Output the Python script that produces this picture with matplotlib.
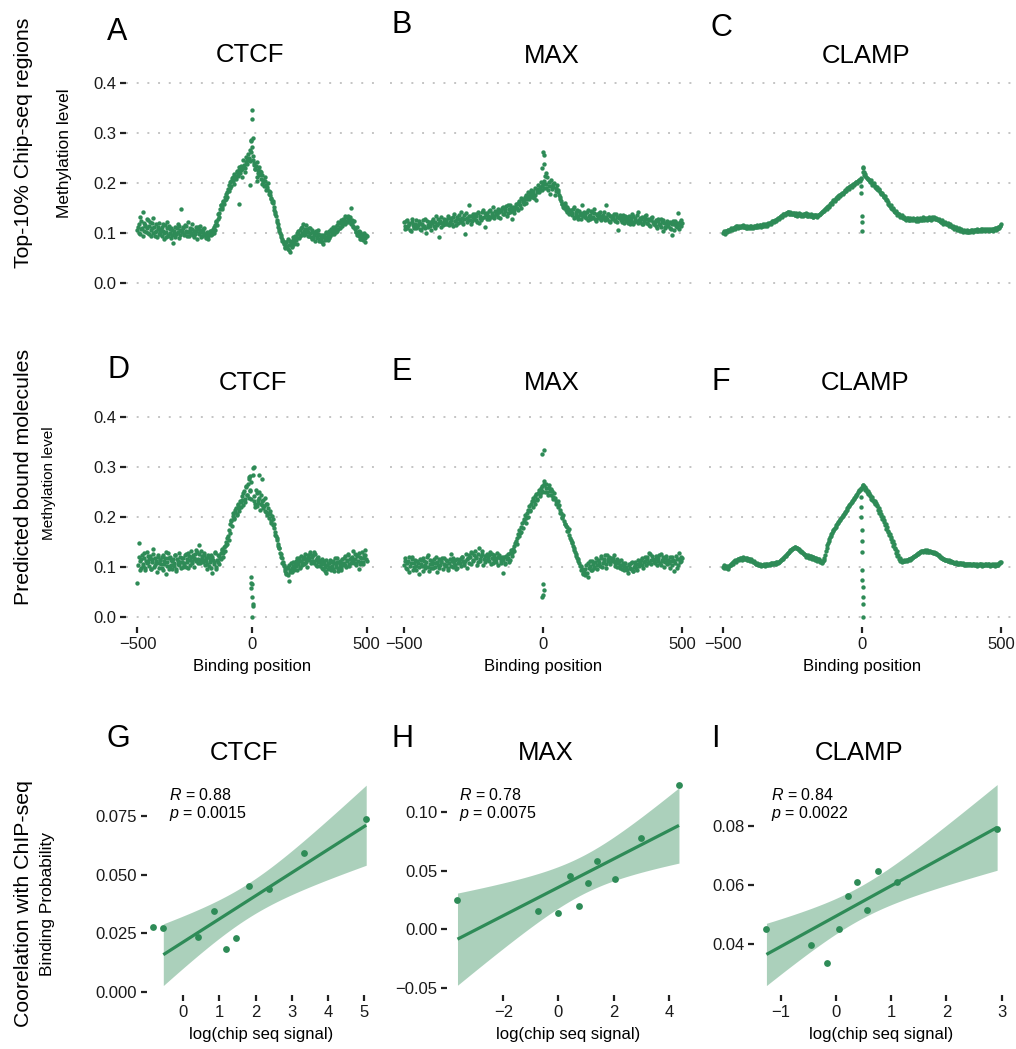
import matplotlib
matplotlib.use("Agg")
import matplotlib.pyplot as plt
import numpy as np

plt.rcParams['font.family'] = ['Liberation Sans', 'DejaVu Sans']
plt.rcParams['mathtext.fontset'] = 'custom'
plt.rcParams['mathtext.rm'] = 'Liberation Sans'
plt.rcParams['mathtext.it'] = 'Liberation Sans:italic'

GREEN = '#2E8B57'
W, H = 1016, 1049

# binding positions: every 5 bp, plus the in-between half steps
positions = np.arange(-500, 501, 5)
positions_b = positions[:-1] + 2.5

# methylation level, top-10% ChIP-seq regions (row 1)
ctcf_top = [
    0.105, 0.118, 0.097, 0.124, 0.110, 0.142, 0.103, 0.116, 0.128, 0.099,
    0.113, 0.121, 0.094, 0.109, 0.130, 0.102, 0.117, 0.091, 0.108, 0.119,
    0.097, 0.112, 0.104, 0.088, 0.115, 0.101, 0.122, 0.093, 0.107, 0.110,
    0.095, 0.079, 0.104, 0.112, 0.098, 0.118, 0.090, 0.106, 0.148, 0.101,
    0.109, 0.096, 0.113, 0.102, 0.122, 0.094, 0.105, 0.099, 0.117, 0.091,
    0.103, 0.111, 0.088, 0.107, 0.098, 0.114, 0.094, 0.102, 0.109, 0.096,
    0.092, 0.101, 0.088, 0.098, 0.104, 0.097, 0.108, 0.112, 0.105, 0.121,
    0.128, 0.139, 0.147, 0.156, 0.151, 0.163, 0.172, 0.168, 0.181, 0.188,
    0.195, 0.189, 0.203, 0.211, 0.198, 0.214, 0.208, 0.221, 0.216, 0.226,
    0.225, 0.212, 0.231, 0.236, 0.222, 0.241, 0.237, 0.250, 0.243, 0.262,
    0.271, 0.245, 0.236, 0.228, 0.241, 0.219, 0.232, 0.224, 0.208, 0.215,
    0.202, 0.211, 0.195, 0.188, 0.199, 0.183, 0.176, 0.168, 0.159, 0.152,
    0.141, 0.133, 0.122, 0.112, 0.104, 0.096, 0.088, 0.084, 0.079, 0.072,
    0.081, 0.068, 0.075, 0.062, 0.079, 0.073, 0.086, 0.082, 0.091, 0.078,
    0.098, 0.089, 0.106, 0.095, 0.112, 0.103, 0.097, 0.115, 0.108, 0.101,
    0.094, 0.109, 0.087, 0.102, 0.096, 0.084, 0.099, 0.091, 0.105, 0.088,
    0.083, 0.096, 0.078, 0.092, 0.087, 0.099, 0.085, 0.103, 0.094, 0.108,
    0.098, 0.112, 0.104, 0.101, 0.116, 0.107, 0.119, 0.110, 0.122, 0.114,
    0.126, 0.118, 0.131, 0.121, 0.134, 0.127, 0.150, 0.119, 0.112, 0.124,
    0.108, 0.101, 0.095, 0.104, 0.088, 0.097, 0.092, 0.085, 0.099, 0.090,
    0.094,
]
ctcf_top_b = [
    0.112, 0.099, 0.131, 0.107, 0.094, 0.120, 0.113, 0.101, 0.109, 0.125,
    0.098, 0.106, 0.119, 0.100, 0.111, 0.093, 0.104, 0.112, 0.097, 0.101,
    0.108, 0.094, 0.117, 0.099, 0.092, 0.109, 0.096, 0.113, 0.100, 0.089,
    0.106, 0.099, 0.091, 0.097, 0.109, 0.102, 0.113, 0.096, 0.104, 0.111,
    0.098, 0.115, 0.104, 0.093, 0.101, 0.110, 0.097, 0.108, 0.095, 0.103,
    0.097, 0.104, 0.111, 0.099, 0.106, 0.092, 0.101, 0.108, 0.098, 0.089,
    0.099, 0.093, 0.097, 0.104, 0.095, 0.103, 0.099, 0.116, 0.124, 0.115,
    0.137, 0.132, 0.155, 0.148, 0.162, 0.158, 0.166, 0.177, 0.171, 0.184,
    0.201, 0.194, 0.209, 0.203, 0.217, 0.209, 0.224, 0.213, 0.231, 0.219,
    0.234, 0.227, 0.245, 0.229, 0.252, 0.246, 0.258, 0.248, 0.266, 0.283,
    0.254, 0.239, 0.227, 0.234, 0.212, 0.226, 0.215, 0.221, 0.198, 0.206,
    0.193, 0.204, 0.186, 0.192, 0.178, 0.181, 0.170, 0.161, 0.164, 0.146,
    0.137, 0.126, 0.117, 0.108, 0.099, 0.091, 0.083, 0.077, 0.070, 0.081,
    0.074, 0.088, 0.066, 0.083, 0.071, 0.092, 0.077, 0.094, 0.085, 0.099,
    0.104, 0.093, 0.110, 0.100, 0.117, 0.096, 0.108, 0.102, 0.094, 0.109,
    0.099, 0.092, 0.106, 0.089, 0.097, 0.103, 0.090, 0.098, 0.084, 0.095,
    0.090, 0.081, 0.095, 0.086, 0.101, 0.092, 0.098, 0.089, 0.104, 0.099,
    0.105, 0.097, 0.111, 0.108, 0.103, 0.121, 0.112, 0.125, 0.117, 0.128,
    0.121, 0.134, 0.124, 0.129, 0.122, 0.131, 0.118, 0.126, 0.113, 0.109,
    0.102, 0.111, 0.099, 0.093, 0.101, 0.087, 0.095, 0.091, 0.082, 0.096,
]
max_top = [
    0.121, 0.108, 0.126, 0.114, 0.119, 0.103, 0.128, 0.112, 0.117, 0.109,
    0.115, 0.124, 0.106, 0.118, 0.111, 0.127, 0.099, 0.116, 0.121, 0.113,
    0.119, 0.128, 0.110, 0.134, 0.117, 0.092, 0.124, 0.131, 0.115, 0.122,
    0.126, 0.118, 0.133, 0.121, 0.129, 0.113, 0.137, 0.124, 0.131, 0.119,
    0.128, 0.141, 0.122, 0.135, 0.098, 0.130, 0.126, 0.155, 0.133, 0.124,
    0.131, 0.138, 0.125, 0.142, 0.120, 0.134, 0.129, 0.145, 0.111, 0.136,
    0.139, 0.128, 0.146, 0.135, 0.151, 0.133, 0.142, 0.137, 0.148, 0.130,
    0.143, 0.152, 0.138, 0.147, 0.133, 0.155, 0.141, 0.149, 0.127, 0.146,
    0.152, 0.158, 0.145, 0.163, 0.150, 0.167, 0.157, 0.171, 0.160, 0.174,
    0.168, 0.179, 0.172, 0.184, 0.176, 0.165, 0.188, 0.181, 0.192, 0.185,
    0.198, 0.203, 0.189, 0.211, 0.194, 0.178, 0.206, 0.191, 0.199, 0.184,
    0.195, 0.181, 0.172, 0.163, 0.158, 0.149, 0.155, 0.142, 0.147, 0.139,
    0.146, 0.135, 0.151, 0.132, 0.141, 0.128, 0.144, 0.136, 0.155, 0.133,
    0.138, 0.129, 0.145, 0.134, 0.127, 0.142, 0.131, 0.148, 0.124, 0.137,
    0.133, 0.141, 0.126, 0.136, 0.130, 0.156, 0.128, 0.138, 0.121, 0.134,
    0.129, 0.137, 0.124, 0.132, 0.105, 0.135, 0.126, 0.131, 0.119, 0.133,
    0.127, 0.120, 0.134, 0.124, 0.138, 0.118, 0.129, 0.123, 0.141, 0.126,
    0.122, 0.131, 0.117, 0.128, 0.135, 0.119, 0.126, 0.113, 0.129, 0.121,
    0.118, 0.126, 0.109, 0.123, 0.115, 0.127, 0.103, 0.119, 0.112, 0.124,
    0.114, 0.121, 0.108, 0.095, 0.117, 0.124, 0.111, 0.139, 0.115, 0.126,
    0.119,
]
max_top_b = [
    0.113, 0.124, 0.109, 0.118, 0.105, 0.122, 0.116, 0.110, 0.125, 0.112,
    0.120, 0.108, 0.117, 0.126, 0.114, 0.109, 0.123, 0.111, 0.118, 0.106,
    0.124, 0.113, 0.121, 0.116, 0.127, 0.119, 0.112, 0.120, 0.128, 0.117,
    0.121, 0.129, 0.115, 0.126, 0.118, 0.132, 0.123, 0.116, 0.127, 0.135,
    0.122, 0.130, 0.118, 0.127, 0.139, 0.121, 0.134, 0.125, 0.117, 0.138,
    0.127, 0.133, 0.121, 0.139, 0.130, 0.126, 0.141, 0.132, 0.140, 0.128,
    0.134, 0.143, 0.131, 0.140, 0.129, 0.144, 0.138, 0.132, 0.141, 0.145,
    0.149, 0.137, 0.144, 0.153, 0.140, 0.148, 0.156, 0.143, 0.151, 0.139,
    0.157, 0.149, 0.161, 0.155, 0.170, 0.162, 0.166, 0.176, 0.168, 0.181,
    0.173, 0.185, 0.178, 0.170, 0.189, 0.182, 0.196, 0.186, 0.201, 0.193,
    0.190, 0.214, 0.197, 0.186, 0.201, 0.193, 0.188, 0.197, 0.176, 0.190,
    0.186, 0.176, 0.167, 0.158, 0.151, 0.160, 0.146, 0.151, 0.138, 0.143,
    0.139, 0.147, 0.129, 0.137, 0.145, 0.133, 0.140, 0.128, 0.139, 0.142,
    0.132, 0.141, 0.126, 0.136, 0.143, 0.130, 0.139, 0.127, 0.135, 0.129,
    0.139, 0.127, 0.134, 0.142, 0.125, 0.131, 0.137, 0.124, 0.133, 0.128,
    0.134, 0.126, 0.138, 0.121, 0.129, 0.133, 0.122, 0.136, 0.127, 0.124,
    0.131, 0.125, 0.118, 0.129, 0.133, 0.121, 0.126, 0.136, 0.119, 0.130,
    0.127, 0.118, 0.124, 0.133, 0.120, 0.128, 0.116, 0.125, 0.131, 0.117,
    0.122, 0.114, 0.128, 0.117, 0.111, 0.121, 0.125, 0.110, 0.119, 0.116,
    0.120, 0.110, 0.117, 0.124, 0.106, 0.113, 0.119, 0.108, 0.122, 0.114,
]
clamp_top = [
    0.099, 0.101, 0.103, 0.102, 0.105, 0.106, 0.108, 0.107, 0.110, 0.111,
    0.113, 0.111, 0.112, 0.114, 0.112, 0.111, 0.113, 0.110, 0.112, 0.111,
    0.110, 0.112, 0.111, 0.113, 0.112, 0.114, 0.113, 0.115, 0.114, 0.113,
    0.114, 0.116, 0.118, 0.117, 0.120, 0.122, 0.124, 0.123, 0.126, 0.128,
    0.130, 0.132, 0.134, 0.136, 0.138, 0.140, 0.139, 0.141, 0.138, 0.140,
    0.137, 0.139, 0.136, 0.138, 0.135, 0.137, 0.134, 0.136, 0.138, 0.135,
    0.137, 0.134, 0.136, 0.133, 0.135, 0.132, 0.134, 0.136, 0.133, 0.135,
    0.138, 0.141, 0.144, 0.146, 0.149, 0.151, 0.154, 0.157, 0.160, 0.163,
    0.166, 0.168, 0.171, 0.173, 0.176, 0.178, 0.180, 0.182, 0.185, 0.187,
    0.189, 0.191, 0.193, 0.196, 0.198, 0.200, 0.202, 0.204, 0.205, 0.207,
    0.122, 0.229, 0.218, 0.212, 0.208, 0.205, 0.203, 0.199, 0.197, 0.194,
    0.190, 0.187, 0.185, 0.181, 0.178, 0.175, 0.171, 0.168, 0.165, 0.158,
    0.153, 0.150, 0.147, 0.144, 0.141, 0.139, 0.137, 0.134, 0.133, 0.131,
    0.130, 0.128, 0.127, 0.129, 0.126, 0.128, 0.127, 0.125, 0.127, 0.126,
    0.127, 0.125, 0.128, 0.126, 0.129, 0.127, 0.128, 0.130, 0.128, 0.129,
    0.131, 0.129, 0.130, 0.127, 0.128, 0.126, 0.124, 0.122, 0.121, 0.119,
    0.120, 0.118, 0.117, 0.115, 0.114, 0.112, 0.111, 0.109, 0.108, 0.107,
    0.106, 0.105, 0.104, 0.103, 0.104, 0.103, 0.102, 0.104, 0.103, 0.105,
    0.104, 0.106, 0.105, 0.104, 0.106, 0.105, 0.107, 0.105, 0.106, 0.107,
    0.106, 0.105, 0.107, 0.106, 0.108, 0.107, 0.109, 0.108, 0.111, 0.114,
    0.117,
]
clamp_top_b = [
    0.103, 0.098, 0.104, 0.106, 0.103, 0.109, 0.106, 0.110, 0.108, 0.113,
    0.110, 0.114, 0.111, 0.113, 0.115, 0.112, 0.110, 0.114, 0.110, 0.113,
    0.113, 0.110, 0.114, 0.111, 0.115, 0.112, 0.116, 0.112, 0.117, 0.115,
    0.117, 0.114, 0.120, 0.119, 0.118, 0.124, 0.121, 0.126, 0.124, 0.130,
    0.128, 0.134, 0.132, 0.138, 0.135, 0.137, 0.142, 0.138, 0.142, 0.137,
    0.140, 0.136, 0.139, 0.134, 0.139, 0.135, 0.138, 0.133, 0.137, 0.139,
    0.133, 0.137, 0.134, 0.137, 0.132, 0.136, 0.135, 0.131, 0.136, 0.137,
    0.140, 0.142, 0.143, 0.148, 0.147, 0.153, 0.152, 0.159, 0.158, 0.165,
    0.164, 0.170, 0.169, 0.175, 0.174, 0.180, 0.178, 0.184, 0.183, 0.189,
    0.187, 0.193, 0.191, 0.198, 0.196, 0.201, 0.199, 0.206, 0.203, 0.209,
    0.222, 0.216, 0.214, 0.209, 0.207, 0.201, 0.205, 0.196, 0.199, 0.191,
    0.192, 0.185, 0.187, 0.179, 0.180, 0.172, 0.173, 0.166, 0.162, 0.156,
    0.155, 0.148, 0.149, 0.142, 0.143, 0.136, 0.138, 0.132, 0.135, 0.129,
    0.132, 0.126, 0.130, 0.125, 0.129, 0.125, 0.129, 0.127, 0.124, 0.129,
    0.124, 0.130, 0.126, 0.131, 0.125, 0.130, 0.126, 0.128, 0.131, 0.126,
    0.128, 0.132, 0.127, 0.130, 0.125, 0.128, 0.122, 0.125, 0.118, 0.122,
    0.117, 0.120, 0.114, 0.117, 0.112, 0.114, 0.108, 0.111, 0.106, 0.109,
    0.104, 0.107, 0.102, 0.105, 0.101, 0.105, 0.101, 0.102, 0.105, 0.102,
    0.106, 0.103, 0.107, 0.103, 0.104, 0.107, 0.103, 0.107, 0.104, 0.106,
    0.108, 0.104, 0.105, 0.108, 0.104, 0.109, 0.106, 0.110, 0.109, 0.113,
]

# methylation level, predicted bound molecules (row 2)
ctcf_bound = [
    0.069, 0.148, 0.112, 0.098, 0.125, 0.107, 0.119, 0.094, 0.131, 0.110,
    0.103, 0.122, 0.097, 0.116, 0.136, 0.105, 0.113, 0.091, 0.120, 0.108,
    0.115, 0.099, 0.124, 0.106, 0.118, 0.087, 0.111, 0.129, 0.102, 0.114,
    0.096, 0.117, 0.108, 0.125, 0.093, 0.112, 0.104, 0.121, 0.099, 0.110,
    0.118, 0.105, 0.127, 0.111, 0.099, 0.122, 0.114, 0.133, 0.108, 0.119,
    0.126, 0.112, 0.131, 0.117, 0.145, 0.109, 0.123, 0.114, 0.128, 0.104,
    0.118, 0.097, 0.121, 0.110, 0.125, 0.089, 0.114, 0.106, 0.128, 0.101,
    0.111, 0.123, 0.118, 0.129, 0.134, 0.128, 0.142, 0.151, 0.147, 0.163,
    0.175, 0.186, 0.194, 0.203, 0.199, 0.211, 0.218, 0.207, 0.226, 0.213,
    0.229, 0.241, 0.224, 0.252, 0.236, 0.261, 0.243, 0.276, 0.252, 0.236,
    0.067, 0.298, 0.231, 0.219, 0.247, 0.228, 0.238, 0.215, 0.244, 0.224,
    0.233, 0.212, 0.226, 0.204, 0.218, 0.198, 0.207, 0.189, 0.196, 0.178,
    0.171, 0.162, 0.155, 0.143, 0.138, 0.126, 0.119, 0.111, 0.104, 0.097,
    0.089, 0.101, 0.072, 0.095, 0.108, 0.091, 0.103, 0.098, 0.112, 0.094,
    0.106, 0.118, 0.099, 0.112, 0.104, 0.121, 0.109, 0.116, 0.101, 0.125,
    0.119, 0.131, 0.112, 0.124, 0.108, 0.127, 0.115, 0.102, 0.121, 0.111,
    0.106, 0.117, 0.096, 0.112, 0.101, 0.089, 0.109, 0.098, 0.115, 0.094,
    0.103, 0.112, 0.092, 0.107, 0.118, 0.099, 0.111, 0.104, 0.095, 0.116,
    0.109, 0.122, 0.101, 0.115, 0.127, 0.106, 0.119, 0.112, 0.133, 0.108,
    0.117, 0.104, 0.125, 0.097, 0.121, 0.111, 0.131, 0.107, 0.119, 0.124,
    0.112,
]
ctcf_bound_b = [
    0.104, 0.121, 0.094, 0.117, 0.103, 0.129, 0.099, 0.113, 0.108, 0.122,
    0.117, 0.096, 0.110, 0.127, 0.101, 0.119, 0.109, 0.124, 0.098, 0.115,
    0.107, 0.121, 0.095, 0.113, 0.130, 0.103, 0.118, 0.096, 0.121, 0.105,
    0.113, 0.102, 0.124, 0.097, 0.116, 0.106, 0.129, 0.110, 0.118, 0.101,
    0.109, 0.124, 0.101, 0.117, 0.128, 0.105, 0.121, 0.112, 0.125, 0.100,
    0.116, 0.135, 0.108, 0.127, 0.115, 0.132, 0.119, 0.110, 0.124, 0.113,
    0.107, 0.124, 0.103, 0.117, 0.099, 0.121, 0.110, 0.131, 0.097, 0.115,
    0.124, 0.106, 0.116, 0.137, 0.121, 0.140, 0.133, 0.145, 0.158, 0.154,
    0.168, 0.193, 0.182, 0.209, 0.196, 0.215, 0.204, 0.223, 0.218, 0.231,
    0.219, 0.233, 0.248, 0.229, 0.259, 0.244, 0.265, 0.238, 0.254, 0.269,
    0.285, 0.242, 0.225, 0.253, 0.221, 0.235, 0.249, 0.226, 0.231, 0.218,
    0.222, 0.238, 0.211, 0.226, 0.209, 0.212, 0.193, 0.202, 0.184, 0.187,
    0.165, 0.158, 0.147, 0.139, 0.128, 0.121, 0.108, 0.103, 0.093, 0.086,
    0.098, 0.084, 0.105, 0.091, 0.099, 0.110, 0.095, 0.109, 0.102, 0.118,
    0.113, 0.101, 0.123, 0.109, 0.117, 0.106, 0.126, 0.111, 0.121, 0.114,
    0.127, 0.108, 0.121, 0.113, 0.130, 0.105, 0.119, 0.110, 0.114, 0.103,
    0.112, 0.098, 0.107, 0.092, 0.114, 0.104, 0.096, 0.108, 0.101, 0.110,
    0.097, 0.108, 0.119, 0.101, 0.110, 0.093, 0.113, 0.098, 0.109, 0.104,
    0.118, 0.105, 0.113, 0.124, 0.102, 0.116, 0.109, 0.121, 0.114, 0.126,
    0.108, 0.123, 0.113, 0.129, 0.106, 0.118, 0.110, 0.124, 0.135, 0.116,
]
max_bound = [
    0.104, 0.118, 0.097, 0.112, 0.091, 0.108, 0.121, 0.100, 0.114, 0.095,
    0.109, 0.087, 0.115, 0.102, 0.119, 0.098, 0.111, 0.124, 0.093, 0.106,
    0.113, 0.099, 0.108, 0.121, 0.090, 0.116, 0.104, 0.110, 0.097, 0.119,
    0.105, 0.112, 0.095, 0.117, 0.126, 0.101, 0.109, 0.114, 0.099, 0.108,
    0.116, 0.103, 0.121, 0.109, 0.112, 0.098, 0.118, 0.124, 0.107, 0.129,
    0.114, 0.132, 0.121, 0.110, 0.138, 0.117, 0.126, 0.104, 0.123, 0.115,
    0.127, 0.112, 0.131, 0.118, 0.109, 0.124, 0.116, 0.128, 0.105, 0.119,
    0.113, 0.089, 0.121, 0.108, 0.117, 0.126, 0.115, 0.134, 0.128, 0.142,
    0.148, 0.158, 0.166, 0.175, 0.171, 0.189, 0.196, 0.204, 0.199, 0.214,
    0.222, 0.213, 0.231, 0.238, 0.226, 0.245, 0.236, 0.253, 0.246, 0.261,
    0.044, 0.272, 0.257, 0.249, 0.263, 0.251, 0.255, 0.236, 0.248, 0.231,
    0.227, 0.232, 0.214, 0.209, 0.201, 0.192, 0.187, 0.181, 0.172, 0.165,
    0.155, 0.148, 0.139, 0.131, 0.122, 0.116, 0.108, 0.103, 0.097, 0.088,
    0.084, 0.104, 0.081, 0.098, 0.112, 0.094, 0.107, 0.101, 0.118, 0.096,
    0.111, 0.103, 0.122, 0.108, 0.116, 0.099, 0.125, 0.113, 0.106, 0.119,
    0.112, 0.124, 0.103, 0.117, 0.109, 0.098, 0.114, 0.105, 0.094, 0.108,
    0.101, 0.089, 0.106, 0.097, 0.111, 0.093, 0.104, 0.099, 0.115, 0.102,
    0.108, 0.118, 0.099, 0.113, 0.105, 0.121, 0.111, 0.126, 0.107, 0.117,
    0.114, 0.122, 0.104, 0.119, 0.109, 0.126, 0.112, 0.101, 0.118, 0.107,
    0.115, 0.098, 0.112, 0.121, 0.093, 0.109, 0.117, 0.104, 0.128, 0.113,
    0.119,
]
max_bound_b = [
    0.112, 0.099, 0.108, 0.121, 0.103, 0.116, 0.094, 0.109, 0.102, 0.113,
    0.100, 0.116, 0.107, 0.093, 0.112, 0.105, 0.120, 0.101, 0.114, 0.098,
    0.106, 0.117, 0.100, 0.111, 0.104, 0.098, 0.113, 0.118, 0.106, 0.102,
    0.115, 0.098, 0.109, 0.103, 0.112, 0.119, 0.104, 0.097, 0.117, 0.111,
    0.108, 0.120, 0.113, 0.104, 0.126, 0.116, 0.109, 0.121, 0.131, 0.112,
    0.124, 0.118, 0.105, 0.127, 0.113, 0.122, 0.133, 0.116, 0.111, 0.125,
    0.118, 0.124, 0.107, 0.126, 0.114, 0.119, 0.110, 0.121, 0.124, 0.108,
    0.120, 0.114, 0.106, 0.123, 0.119, 0.111, 0.129, 0.122, 0.136, 0.133,
    0.152, 0.147, 0.162, 0.169, 0.181, 0.178, 0.192, 0.188, 0.209, 0.201,
    0.215, 0.226, 0.219, 0.232, 0.241, 0.234, 0.248, 0.242, 0.257, 0.252,
    0.264, 0.250, 0.266, 0.244, 0.258, 0.243, 0.251, 0.240, 0.238, 0.226,
    0.220, 0.224, 0.208, 0.199, 0.205, 0.186, 0.182, 0.173, 0.176, 0.159,
    0.151, 0.142, 0.135, 0.126, 0.119, 0.112, 0.103, 0.094, 0.086, 0.091,
    0.097, 0.089, 0.108, 0.102, 0.094, 0.113, 0.099, 0.110, 0.104, 0.115,
    0.106, 0.118, 0.101, 0.113, 0.124, 0.107, 0.116, 0.121, 0.110, 0.114,
    0.119, 0.108, 0.113, 0.101, 0.112, 0.105, 0.096, 0.109, 0.102, 0.099,
    0.095, 0.104, 0.099, 0.108, 0.092, 0.101, 0.110, 0.094, 0.106, 0.112,
    0.115, 0.104, 0.110, 0.120, 0.116, 0.108, 0.129, 0.114, 0.122, 0.110,
    0.108, 0.117, 0.113, 0.125, 0.104, 0.115, 0.120, 0.110, 0.123, 0.114,
    0.109, 0.120, 0.104, 0.115, 0.112, 0.123, 0.098, 0.116, 0.110, 0.121,
]
clamp_bound = [
    0.101, 0.104, 0.099, 0.103, 0.100, 0.105, 0.107, 0.110, 0.112, 0.113,
    0.115, 0.117, 0.116, 0.118, 0.117, 0.119, 0.116, 0.118, 0.115, 0.116,
    0.114, 0.112, 0.110, 0.108, 0.106, 0.107, 0.105, 0.104, 0.105, 0.104,
    0.105, 0.106, 0.104, 0.107, 0.105, 0.108, 0.106, 0.108, 0.107, 0.110,
    0.110, 0.112, 0.115, 0.117, 0.120, 0.123, 0.126, 0.129, 0.132, 0.135,
    0.137, 0.139, 0.140, 0.139, 0.137, 0.135, 0.132, 0.130, 0.127, 0.125,
    0.121, 0.124, 0.119, 0.122, 0.117, 0.120, 0.115, 0.118, 0.113, 0.116,
    0.110, 0.108, 0.112, 0.119, 0.132, 0.145, 0.153, 0.160, 0.166, 0.172,
    0.177, 0.181, 0.186, 0.190, 0.195, 0.199, 0.203, 0.207, 0.211, 0.215,
    0.219, 0.223, 0.227, 0.231, 0.236, 0.240, 0.244, 0.249, 0.253, 0.256,
    0.153, 0.264, 0.260, 0.255, 0.251, 0.247, 0.243, 0.239, 0.235, 0.231,
    0.228, 0.223, 0.218, 0.212, 0.206, 0.200, 0.194, 0.187, 0.180, 0.173,
    0.167, 0.160, 0.153, 0.146, 0.139, 0.132, 0.125, 0.119, 0.115, 0.113,
    0.114, 0.112, 0.115, 0.114, 0.117, 0.116, 0.119, 0.121, 0.123, 0.125,
    0.127, 0.129, 0.131, 0.133, 0.132, 0.134, 0.131, 0.133, 0.130, 0.132,
    0.131, 0.129, 0.130, 0.128, 0.126, 0.124, 0.121, 0.119, 0.117, 0.116,
    0.115, 0.114, 0.113, 0.111, 0.112, 0.110, 0.109, 0.108, 0.109, 0.107,
    0.107, 0.108, 0.106, 0.107, 0.105, 0.106, 0.107, 0.105, 0.106, 0.104,
    0.106, 0.104, 0.105, 0.107, 0.104, 0.106, 0.103, 0.105, 0.104, 0.106,
    0.104, 0.106, 0.103, 0.105, 0.104, 0.106, 0.105, 0.104, 0.107, 0.109,
    0.111,
]
clamp_bound_b = [
    0.099, 0.103, 0.101, 0.097, 0.102, 0.104, 0.109, 0.107, 0.114, 0.111,
    0.117, 0.114, 0.119, 0.115, 0.120, 0.116, 0.119, 0.114, 0.117, 0.113,
    0.116, 0.111, 0.112, 0.107, 0.108, 0.105, 0.106, 0.103, 0.104, 0.106,
    0.103, 0.107, 0.105, 0.106, 0.108, 0.106, 0.109, 0.107, 0.110, 0.109,
    0.111, 0.114, 0.116, 0.119, 0.122, 0.124, 0.128, 0.130, 0.134, 0.136,
    0.138, 0.141, 0.139, 0.138, 0.136, 0.133, 0.131, 0.128, 0.126, 0.124,
    0.123, 0.121, 0.122, 0.119, 0.120, 0.117, 0.118, 0.115, 0.116, 0.112,
    0.113, 0.110, 0.115, 0.125, 0.138, 0.149, 0.156, 0.163, 0.169, 0.174,
    0.179, 0.184, 0.188, 0.193, 0.197, 0.201, 0.205, 0.209, 0.213, 0.217,
    0.221, 0.225, 0.229, 0.234, 0.238, 0.242, 0.246, 0.251, 0.254, 0.258,
    0.262, 0.258, 0.253, 0.249, 0.245, 0.241, 0.237, 0.233, 0.229, 0.226,
    0.221, 0.215, 0.209, 0.203, 0.197, 0.191, 0.184, 0.177, 0.170, 0.164,
    0.157, 0.150, 0.143, 0.136, 0.129, 0.122, 0.117, 0.113, 0.111, 0.112,
    0.113, 0.114, 0.112, 0.116, 0.115, 0.118, 0.120, 0.122, 0.124, 0.126,
    0.128, 0.130, 0.132, 0.131, 0.133, 0.132, 0.134, 0.131, 0.133, 0.130,
    0.130, 0.128, 0.129, 0.127, 0.125, 0.122, 0.120, 0.118, 0.116, 0.115,
    0.114, 0.112, 0.114, 0.112, 0.110, 0.111, 0.108, 0.110, 0.107, 0.108,
    0.109, 0.106, 0.108, 0.105, 0.107, 0.105, 0.106, 0.107, 0.104, 0.106,
    0.105, 0.106, 0.103, 0.105, 0.106, 0.104, 0.106, 0.104, 0.106, 0.104,
    0.106, 0.104, 0.105, 0.107, 0.105, 0.103, 0.107, 0.105, 0.108, 0.110,
]

# extra points close to the binding site (outliers above / dips below)
ctcf_top_ex_x = [0, 2, -5, 5, -10, -55, 20]
ctcf_top_ex_y = [0.345, 0.328, 0.285, 0.290, 0.195, 0.158, 0.203]
max_top_ex_x = [0, 3, 2, -3, 10]
max_top_ex_y = [0.262, 0.256, 0.238, 0.230, 0.220]
clamp_top_ex_x = [0, 0, -2, 5, -5, 8]
clamp_top_ex_y = [0.134, 0.103, 0.180, 0.232, 0.193, 0.222]
ctcf_bound_ex_x = [-5, 0, 3, 2, -3, 5, -4, 7, 30, 45, -10, -15]
ctcf_bound_ex_y = [0.081, 0.040, 0.027, 0.000, 0.058, 0.022, 0.069, 0.300, 0.285, 0.275, 0.282, 0.279]
max_bound_ex_x = [-3, 3, 0, -2, 2, -4, 5]
max_bound_ex_y = [0.325, 0.333, 0.067, 0.041, 0.055, 0.250, 0.265]
clamp_bound_ex_x = [-4, -3, -2, -1, 0, 1, 1, 2, 2, 3, 3, 5, 8]
clamp_bound_ex_y = [0.240, 0.220, 0.200, 0.175, 0.130, 0.094, 0.075, 0.060, 0.040, 0.027, 0.000, 0.264, 0.260]

# binding probability vs log(chip seq signal) (row 3)
ctcf_sig = [-0.83, -0.55, 0.40, 0.86, 1.19, 1.47, 1.81, 2.37, 3.34, 5.05]
ctcf_prob = [0.0278, 0.0274, 0.0236, 0.0345, 0.0182, 0.0230, 0.0453, 0.0440, 0.0591, 0.0738]
ctcf_in_fit = [False, True, True, True, True, True, True, True, True, True]
max_sig = [-3.66, -0.75, -0.01, 0.43, 0.76, 1.06, 1.40, 2.06, 3.00, 4.37]
max_prob = [0.0251, 0.0157, 0.0142, 0.0456, 0.0202, 0.0399, 0.0587, 0.0428, 0.0784, 0.1235]
max_in_fit = [True] * 10
clamp_sig = [-1.26, -0.45, -0.17, 0.05, 0.22, 0.39, 0.56, 0.76, 1.11, 2.92]
clamp_prob = [0.0450, 0.0397, 0.0335, 0.0452, 0.0562, 0.0611, 0.0517, 0.0647, 0.0611, 0.0789]
clamp_in_fit = [True] * 10

# 97.5% t quantiles by degrees of freedom
T975 = {7: 2.3646, 8: 2.3060}

fig = plt.figure(figsize=(W / 100, H / 100), dpi=100)
fig.patch.set_facecolor('white')


def px_axes(x0, y0, x1, y1):
    return fig.add_axes([x0 / W, 1 - y1 / H, (x1 - x0) / W, (y1 - y0) / H])


def ftext(x, y, s, **kw):
    fig.text(x / W, 1 - y / H, s, **kw)


def clean(ax):
    for sp in ax.spines.values():
        sp.set_visible(False)
    ax.tick_params(length=4, width=1.6, color='#222222', labelsize=12,
                   labelcolor='#1a1a1a', pad=3)


def profile_panel(box, vals, vals_b, ex_x, ex_y, show_y, show_x):
    assert len(vals) == len(positions) and len(vals_b) == len(positions_b)
    ax = px_axes(*box)
    ax.scatter(positions, vals, s=10, c=GREEN, lw=0, zorder=3)
    ax.scatter(positions_b, vals_b, s=10, c=GREEN, lw=0, zorder=3)
    ax.scatter(ex_x, ex_y, s=10, c=GREEN, lw=0, zorder=3)
    ax.set_xlim(-550, 550)
    ax.set_ylim(-0.02, 0.42)
    ax.set_yticks([0.0, 0.1, 0.2, 0.3, 0.4])
    ax.set_yticklabels(['0.0', '0.1', '0.2', '0.3', '0.4'])
    ax.yaxis.grid(True, linestyle=(0, (1, 4.5)), linewidth=1.4, color='#c4c4c4')
    ax.set_axisbelow(True)
    clean(ax)
    if not show_y:
        ax.tick_params(axis='y', left=False, labelleft=False)
    if show_x:
        ax.set_xticks([-500, 0, 500])
        ax.set_xlabel('Binding position', fontsize=12, labelpad=5)
    else:
        ax.tick_params(axis='x', bottom=False, labelbottom=False)
    return ax


def fit_panel(box, xs, ys, in_fit, xlim, ylim, yticks, ylabels, xticks):
    xs = np.asarray(xs)
    ys = np.asarray(ys)
    m = np.asarray(in_fit)
    fx, fy = xs[m], ys[m]
    n = len(fx)
    slope, icpt = np.polyfit(fx, fy, 1)
    grid = np.linspace(fx.min(), fx.max(), 80)
    pred = slope * grid + icpt
    resid = fy - (slope * fx + icpt)
    s = np.sqrt(np.sum(resid ** 2) / (n - 2))
    sxx = np.sum((fx - fx.mean()) ** 2)
    se = s * np.sqrt(1 / n + (grid - fx.mean()) ** 2 / sxx)
    t = T975[n - 2]
    ax = px_axes(*box)
    ax.fill_between(grid, pred - t * se, pred + t * se, color=GREEN, alpha=0.4, lw=0)
    ax.plot(grid, pred, color=GREEN, lw=2.3, solid_capstyle='butt')
    ax.scatter(xs, ys, s=24, c=GREEN, lw=0, zorder=3)
    ax.set_xlim(*xlim)
    ax.set_ylim(*ylim)
    ax.set_yticks(yticks)
    ax.set_yticklabels(ylabels)
    ax.set_xticks(xticks)
    clean(ax)
    ax.set_xlabel('log(chip seq signal)', fontsize=12, labelpad=5)
    return ax


# row 1
profile_panel((126, 73, 378, 293), ctcf_top, ctcf_top_b, ctcf_top_ex_x, ctcf_top_ex_y, True, False)
profile_panel((390, 73, 696, 293), max_top, max_top_b, max_top_ex_x, max_top_ex_y, False, False)
profile_panel((709, 73, 1015, 293), clamp_top, clamp_top_b, clamp_top_ex_x, clamp_top_ex_y, False, False)
# row 2
profile_panel((126, 407, 378, 627), ctcf_bound, ctcf_bound_b, ctcf_bound_ex_x, ctcf_bound_ex_y, True, True)
profile_panel((390, 407, 696, 627), max_bound, max_bound_b, max_bound_ex_x, max_bound_ex_y, False, True)
profile_panel((709, 407, 1015, 627), clamp_bound, clamp_bound_b, clamp_bound_ex_x, clamp_bound_ex_y, False, True)
# row 3
fit_panel((147, 775, 376, 995), ctcf_sig, ctcf_prob, ctcf_in_fit, (-1.0, 5.32), (-0.0013, 0.0925),
          [0.0, 0.025, 0.05, 0.075], ['0.000', '0.025', '0.050', '0.075'], [0, 1, 2, 3, 4, 5])
fit_panel((447, 775, 690, 995), max_sig, max_prob, max_in_fit, (-4.04, 4.77), (-0.0562, 0.132),
          [-0.05, 0.0, 0.05, 0.10], ['\u22120.05', '0.00', '0.05', '0.10'], [-2, 0, 2, 4])
fit_panel((754, 775, 1009, 995), clamp_sig, clamp_prob, clamp_in_fit, (-1.485, 3.135), (0.0228, 0.0972),
          [0.04, 0.06, 0.08], ['0.04', '0.06', '0.08'], [-1, 0, 1, 2, 3])

# correlation labels
stats = [(169, '0.88', '0.0015'), (459, '0.78', '0.0075'), (771, '0.84', '0.0022')]
for x, r, p in stats:
    ftext(x, 800, r'$\it{R}$ = ' + r, fontsize=11.5, ha='left', va='baseline')
    ftext(x, 818, r'$\it{p}$ = ' + p, fontsize=11.5, ha='left', va='baseline')

# panel letters
letters = [('A', 107, 40), ('B', 392, 33), ('C', 711, 36),
           ('D', 107, 378), ('E', 392, 380), ('F', 711, 390),
           ('G', 107, 747), ('H', 392, 747), ('I', 711, 747)]
for s, x, y in letters:
    ftext(x, y, s, fontsize=22, ha='left', va='baseline')

# panel titles
titles = [('CTCF', 250, 62), ('MAX', 552, 63), ('CLAMP', 866, 63),
          ('CTCF', 253, 390), ('MAX', 552, 390), ('CLAMP', 865, 390),
          ('CTCF', 244, 760), ('MAX', 546, 760), ('CLAMP', 859, 760)]
for s, x, y in titles:
    ftext(x, y, s, fontsize=18.5, ha='center', va='baseline')

# row labels
ftext(24, 143, 'Top-10% Chip-seq regions', fontsize=15.3, rotation=90, ha='center', va='center')
ftext(65, 153, 'Methylation level', fontsize=12.5, rotation=90, ha='center', va='center')
ftext(24, 477, 'Predicted bound molecules', fontsize=15.3, rotation=90, ha='center', va='center')
ftext(49, 483, 'Methylation level', fontsize=11, rotation=90, ha='center', va='center')
ftext(24, 904, 'Coorelation with ChIP-seq', fontsize=15.3, rotation=90, ha='center', va='center')
ftext(48, 904, 'Binding Probability', fontsize=12.5, rotation=90, ha='center', va='center')

fig.savefig('out.png', dpi=100, facecolor='white')
